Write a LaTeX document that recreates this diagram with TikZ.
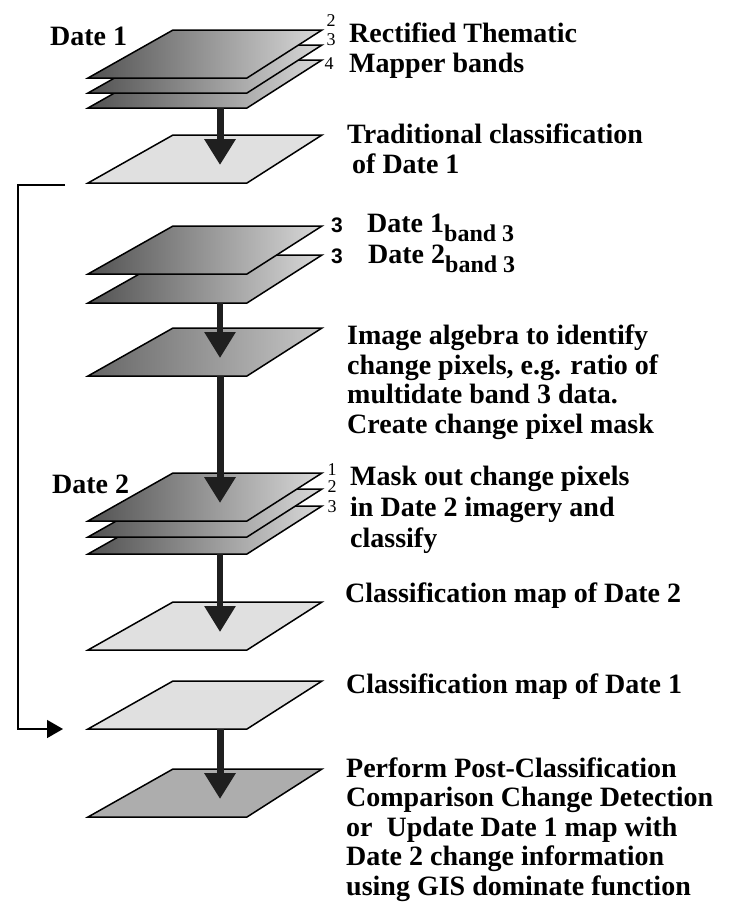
\documentclass[tikz,border=0pt]{standalone}
\usepackage{fontspec}
\setmainfont{Liberation Serif}
\newfontfamily\numsans{Liberation Sans}
\usetikzlibrary{arrows.meta}
\tikzset{
  every node/.style={
    text=black
  },
  caption/.style={font={\fontsize{28}{29.5}\selectfont\bfseries}, anchor=base west, align=left, inner sep=0pt},
  bandno/.style={font={\fontsize{18}{18}\selectfont}, inner sep=0pt},
  bandsans/.style={font={\numsans\fontsize{21}{21}\selectfont\bfseries}, inner sep=0pt},
  darkplate/.style={draw=black, line width=1.5pt, left color=black!68, right color=black!15},
  midplate/.style={draw=black, line width=1.5pt, left color=black!60, right color=black!22},
  lightplate/.style={draw=black, line width=1.5pt, fill=black!12},
  greyplate/.style={draw=black, line width=1.5pt, fill=black!32},
  flow/.style={line width=7pt, draw=black!88, -{Triangle[width=30pt,length=26pt]}},
  feedback/.style={line width=1.5pt, -{Triangle[width=18pt,length=16pt]}}
}
\newcommand{\plate}[3]{%
  \draw[#3] (88,#2) -- (247,#2) -- (322,#2-48) -- (173,#2-48) -- cycle;
  \coordinate (#1) at (220,#2);
  \coordinate (#1-in) at (220,#2-18);
}
\newcommand{\lowsub}[1]{\raisebox{-9pt}{\fontsize{24}{24}\selectfont #1}}

\begin{document}
\begin{tikzpicture}[x=1pt,y=-1pt]
    %\draw[gray, very thin] (0,0) grid[step=50] (734,903);
    \fill[white] (0,0) rectangle (734,903);
    \useasboundingbox (0,0) rectangle (734,903);

    % Date 1 stack
    \plate{tmc}{108}{darkplate}
    \plate{tmb}{93}{darkplate}
    \plate{tma}{78}{darkplate}
    \plate{trad}{183}{lightplate}
    \node[caption] (date1) at (50,45) {Date 1};
    \node[bandno] (n2) at (331,21) {2};
    \node[bandno] (n3) at (331,40) {3};
    \node[bandno] (n4) at (329,64) {4};
    % multi-line captions sit on their last baseline
    \node[caption] (tmtext) at (349,72) {Rectified Thematic\\Mapper bands};
    \node[caption] (tradtext) at (347,173) {Traditional classification\\\hspace*{5pt}of Date 1};

    % band 3 pair
    \plate{bb}{303}{darkplate}
    \plate{ba}{274}{darkplate}
    \plate{alg}{376}{midplate}
    \node[bandsans] (s1) at (337,225) {3};
    \node[bandsans] (s2) at (337,256) {3};
    \node[caption] (b1text) at (367,232) {Date 1\lowsub{band 3}};
    \node[caption] (b2text) at (368,263) {Date 2\lowsub{band 3}};
    \node[caption] (algtext) at (347,433) {Image algebra to identify\\change pixels, e.g. ratio of\\multidate band 3 data.\\Create change pixel mask};

    % Date 2 stack
    \plate{dc}{554}{darkplate}
    \plate{db}{537}{darkplate}
    \plate{da}{521}{darkplate}
    \plate{cls2}{650}{lightplate}
    \node[caption] (date2) at (52,493) {Date 2};
    \node[bandno] (m1) at (332,470) {1};
    \node[bandno] (m2) at (332,487) {2};
    \node[bandno] (m3) at (332,507) {3};
    \node[caption, font={\fontsize{28}{31}\selectfont\bfseries}] (masktext) at (350,547) {Mask out change pixels\\in Date 2 imagery and\\classify};
    \node[caption] (cls2text) at (345,602) {Classification map of Date 2};

    % comparison
    \plate{cls1}{729}{lightplate}
    \plate{post}{817}{greyplate}
    \node[caption] (cls1text) at (346,693) {Classification map of Date 1};
    \node[caption] (posttext) at (346,895) {Perform Post-Classification\\Comparison Change Detection\\or~ Update Date 1 map with\\Date 2 change information\\using GIS dominate function};

    \draw[flow] (tmc) -- (trad-in);
    \draw[flow, line width=6pt] (bb) -- (alg-in);
    \draw[flow] (alg) -- (da-in);
    \draw[flow, line width=6pt] (dc) -- (cls2-in);
    \draw[flow] (cls1) -- (post-in);

    \coordinate (fbstart) at (65,185);
    \coordinate (fbend) at (63,729);
    \draw[feedback] (fbstart) -| (18,729) -- (fbend);
\end{tikzpicture}
\end{document}
